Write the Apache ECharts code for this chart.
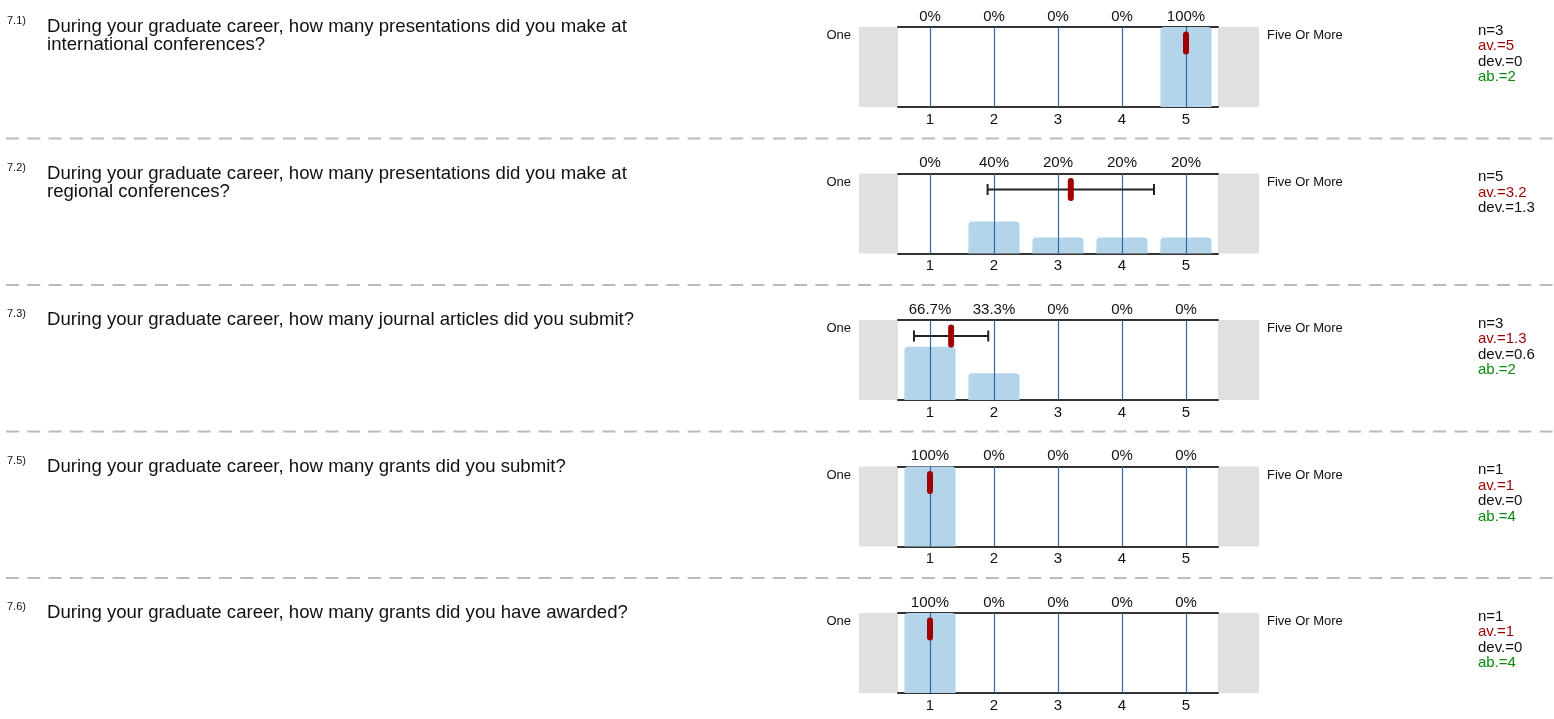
<!DOCTYPE html>
<html><head><meta charset="utf-8">
<script src="https://cdn.jsdelivr.net/npm/echarts@6/dist/echarts.min.js"></script>
<style>html,body{margin:0;padding:0;background:#fff}#c{width:1554px;height:719px}</style>
</head><body><div id="c"></div>
<script>
// ---- data ----
const qNumbers = ['7.1)', '7.2)', '7.3)', '7.5)', '7.6)'];
const questions = [
  'During your graduate career, how many presentations did you make at international conferences?',
  'During your graduate career, how many presentations did you make at regional conferences?',
  'During your graduate career, how many journal articles did you submit?',
  'During your graduate career, how many grants did you submit?',
  'During your graduate career, how many grants did you have awarded?'
];
const scaleLabels = ['1', '2', '3', '4', '5'];
const leftPole = 'One';
const rightPole = 'Five Or More';
const pct71 = [0, 0, 0, 0, 100];
const pct72 = [0, 40, 20, 20, 20];
const pct73 = [66.7, 33.3, 0, 0, 0];
const pct75 = [100, 0, 0, 0, 0];
const pct76 = [100, 0, 0, 0, 0];
const counts = [3, 5, 3, 1, 1];
const means = [5, 3.2, 1.33, 1, 1];
const devs = [0, 1.3, 0.58, 0, 0];
const abstentions = [2, null, 2, 4, 4];

const pcts = [pct71, pct72, pct73, pct75, pct76];

// ---- layout / style ----
const FONT = '"Liberation Sans", Arial, sans-serif';
const TOP0 = 27, STEP = 146.5, PLOT_LEFT = 898, PLOT_W = 320, PLOT_H = 80;
const SIDE_W = 40;
const fmt = v => String(Math.round(v * 10) / 10);

const grids = [], xAxes = [], yAxes = [], series = [], graphics = [];

pcts.forEach((pct, i) => {
  const top = TOP0 + STEP * i;
  grids.push({ left: PLOT_LEFT, top: top, width: PLOT_W, height: PLOT_H, containLabel: false });
  // bottom category axis
  xAxes.push({
    type: 'category', gridIndex: i, position: 'bottom', data: scaleLabels,
    axisLine: { show: true, lineStyle: { color: '#333', width: 2 } },
    axisTick: { show: false },
    axisLabel: { color: '#111', fontSize: 15, fontFamily: FONT, margin: 5 },
    splitLine: { show: false }
  });
  // top category axis with percentages
  xAxes.push({
    type: 'category', gridIndex: i, position: 'top', data: scaleLabels,
    axisLine: { show: true, lineStyle: { color: '#333', width: 2 } },
    axisTick: { show: false },
    axisLabel: { color: '#111', fontSize: 15, fontFamily: FONT, margin: 3,
      formatter: (v, idx) => fmt(pct[idx]) + '%' },
    splitLine: { show: false }
  });
  // hidden value axis for mean / deviation
  xAxes.push({ type: 'value', gridIndex: i, min: 0.5, max: 5.5, show: false, splitLine: { show: false } });
  yAxes.push({ type: 'value', gridIndex: i, min: 0, max: 100, show: false, splitLine: { show: false } });

  series.push({
    type: 'bar', xAxisIndex: 3 * i, yAxisIndex: i, data: pct, barWidth: '80%',
    itemStyle: { color: '#b4d4ea', borderRadius: [4, 4, 0, 0] },
    silent: true, animation: false,
    markLine: {
      silent: true, animation: false, symbol: ['none', 'none'], label: { show: false },
      lineStyle: { color: '#2f6aa3', width: 1.2, type: 'solid' },
      data: scaleLabels.map(s => ({ xAxis: s }))
    }
  });
  series.push({
    type: 'custom', xAxisIndex: 3 * i + 2, yAxisIndex: i, z: 10, animation: false, silent: true,
    data: [[means[i], devs[i]]],
    renderItem: (params, api) => {
      const m = api.value(0), s = api.value(1);
      const p = api.coord([m, 100]);
      const gy = p[1];
      const children = [];
      if (s > 0) {
        const x1 = api.coord([m - s, 100])[0], x2 = api.coord([m + s, 100])[0];
        const ey = gy + 16;
        const st = { stroke: '#222', lineWidth: 2 };
        children.push({ type: 'line', shape: { x1, y1: ey, x2, y2: ey }, style: st });
        children.push({ type: 'line', shape: { x1, y1: ey - 5.5, x2: x1, y2: ey + 5.5 }, style: st });
        children.push({ type: 'line', shape: { x1: x2, y1: ey - 5.5, x2, y2: ey + 5.5 }, style: st });
      }
      children.push({ type: 'line', shape: { x1: p[0], y1: gy + 7.5, x2: p[0], y2: gy + 24.5 },
        style: { stroke: '#a20000', lineWidth: 6, lineCap: 'round' } });
      return { type: 'group', children };
    }
  });

  // grey side boxes
  graphics.push({ type: 'rect', z: -1, shape: { x: PLOT_LEFT - SIDE_W + 1, y: top, width: SIDE_W - 1, height: PLOT_H }, style: { fill: '#e0e0e0' } });
  graphics.push({ type: 'rect', z: -1, shape: { x: PLOT_LEFT + PLOT_W, y: top, width: SIDE_W + 1, height: PLOT_H }, style: { fill: '#e0e0e0' } });

  // question number & text
  graphics.push({ type: 'text', x: 7, y: top - 6, style: { text: qNumbers[i], font: '11px ' + FONT, fill: '#111', verticalAlign: 'middle' } });
  graphics.push({ type: 'text', x: 47, y: top - 9, style: { text: questions[i], font: '18.6px ' + FONT, fill: '#111',
    width: 620, overflow: 'break', lineHeight: 18, verticalAlign: 'top' } });

  // pole labels
  graphics.push({ type: 'text', x: PLOT_LEFT - SIDE_W - 7, y: top + 8.5, style: { text: leftPole, font: '13px ' + FONT, fill: '#111', align: 'right', verticalAlign: 'middle' } });
  graphics.push({ type: 'text', x: 1267, y: top + 8.5, style: { text: rightPole, font: '13px ' + FONT, fill: '#111', align: 'left', verticalAlign: 'middle' } });

  // stats
  let t = '{k|n=' + counts[i] + '}\n{r|av.=' + fmt(means[i]) + '}\n{k|dev.=' + fmt(devs[i]) + '}';
  if (abstentions[i] != null) t += '\n{g|ab.=' + abstentions[i] + '}';
  graphics.push({ type: 'text', x: 1478, y: top - 4, style: { text: t, font: '15px ' + FONT, verticalAlign: 'top',
    rich: {
      k: { fill: '#111', font: '15px ' + FONT, lineHeight: 15.5 },
      r: { fill: '#9b0000', font: '15px ' + FONT, lineHeight: 15.5 },
      g: { fill: '#0a8a0a', font: '15px ' + FONT, lineHeight: 15.5 }
    } } });

  // separator
  if (i < pcts.length - 1) {
    const sy = top + 111.5;
    graphics.push({ type: 'line', shape: { x1: 6, y1: sy, x2: 1554, y2: sy }, style: { stroke: '#bbbbbb', lineWidth: 2, lineDash: [13, 8.3] } });
  }
});

const chart = echarts.init(document.getElementById('c'), null, { renderer: 'canvas' });
chart.setOption({
  animation: false,
  backgroundColor: '#fff',
  grid: grids, xAxis: xAxes, yAxis: yAxes, series: series, graphic: graphics
});
</script></body></html>
